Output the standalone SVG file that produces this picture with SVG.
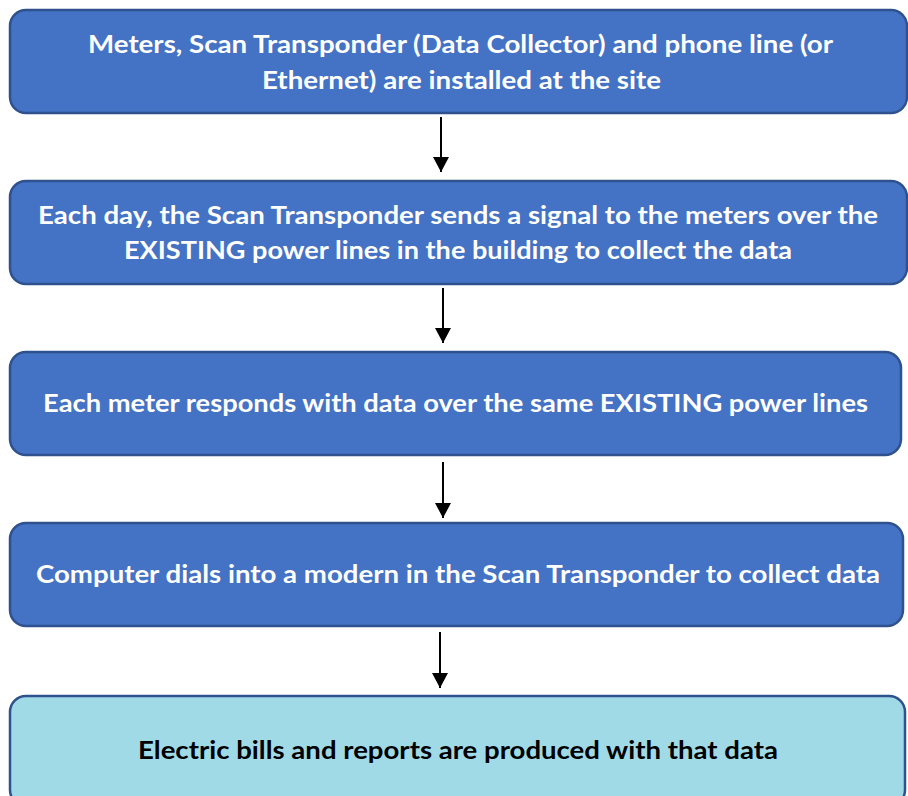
<svg xmlns="http://www.w3.org/2000/svg" width="908" height="796" viewBox="0 0 908 796">
  <defs>
    <style>
      .box { fill: #4472C4; stroke: #2F528F; stroke-width: 2.5; }
      .box-end { fill: #A0DAE6; stroke: #2F528F; stroke-width: 2.5; }
      .label { font-family: Lato, "Liberation Sans", Arial, sans-serif; font-weight: bold; font-size: 24px; fill: #FFFFFF; text-anchor: middle; }
      .label-dark { fill: #000000; }
      .link { stroke: #000000; stroke-width: 2; fill: none; marker-end: url(#head); }
    </style>
    <marker id="head" markerWidth="16" markerHeight="16" viewBox="0 0 16 16" refX="15" refY="8" orient="auto" markerUnits="userSpaceOnUse">
      <path d="M0,0 L15,8 L0,16 Z" fill="#000000"/>
    </marker>
  </defs>

  <!-- process steps -->
  <g id="step-install">
    <rect class="box" x="10" y="10" width="897" height="103" rx="16" ry="16"/>
    <text class="label" x="460.5" y="53" textLength="745" lengthAdjust="spacingAndGlyphs">Meters, Scan Transponder (Data Collector) and phone line (or</text>
    <text class="label" x="461.5" y="88.5" textLength="399" lengthAdjust="spacingAndGlyphs">Ethernet) are installed at the site</text>
  </g>

  <g id="step-signal">
    <rect class="box" x="10" y="181" width="897" height="103" rx="16" ry="16"/>
    <text class="label" x="458" y="224" textLength="840" lengthAdjust="spacingAndGlyphs">Each day, the Scan Transponder sends a signal to the meters over the</text>
    <text class="label" x="458" y="259" textLength="668" lengthAdjust="spacingAndGlyphs">EXISTING power lines in the building to collect the data</text>
  </g>

  <g id="step-respond">
    <rect class="box" x="10" y="352" width="891" height="103" rx="16" ry="16"/>
    <text class="label" x="455.5" y="412" textLength="825" lengthAdjust="spacingAndGlyphs">Each meter responds with data over the same EXISTING power lines</text>
  </g>

  <g id="step-dial">
    <rect class="box" x="10" y="523" width="893" height="103" rx="16" ry="16"/>
    <text class="label" x="458" y="583" textLength="844" lengthAdjust="spacingAndGlyphs">Computer dials into a modern in the Scan Transponder to collect data</text>
  </g>

  <g id="step-bills">
    <rect class="box-end" x="10" y="696" width="895" height="110" rx="16" ry="16"/>
    <text class="label label-dark" x="458" y="759" textLength="640" lengthAdjust="spacingAndGlyphs">Electric bills and reports are produced with that data</text>
  </g>

  <!-- connectors -->
  <g id="connectors">
    <line class="link" x1="441" y1="117" x2="441" y2="172"/>
    <line class="link" x1="443" y1="288" x2="443" y2="343"/>
    <line class="link" x1="443" y1="462" x2="443" y2="518"/>
    <line class="link" x1="440" y1="632" x2="440" y2="688"/>
  </g>
</svg>
